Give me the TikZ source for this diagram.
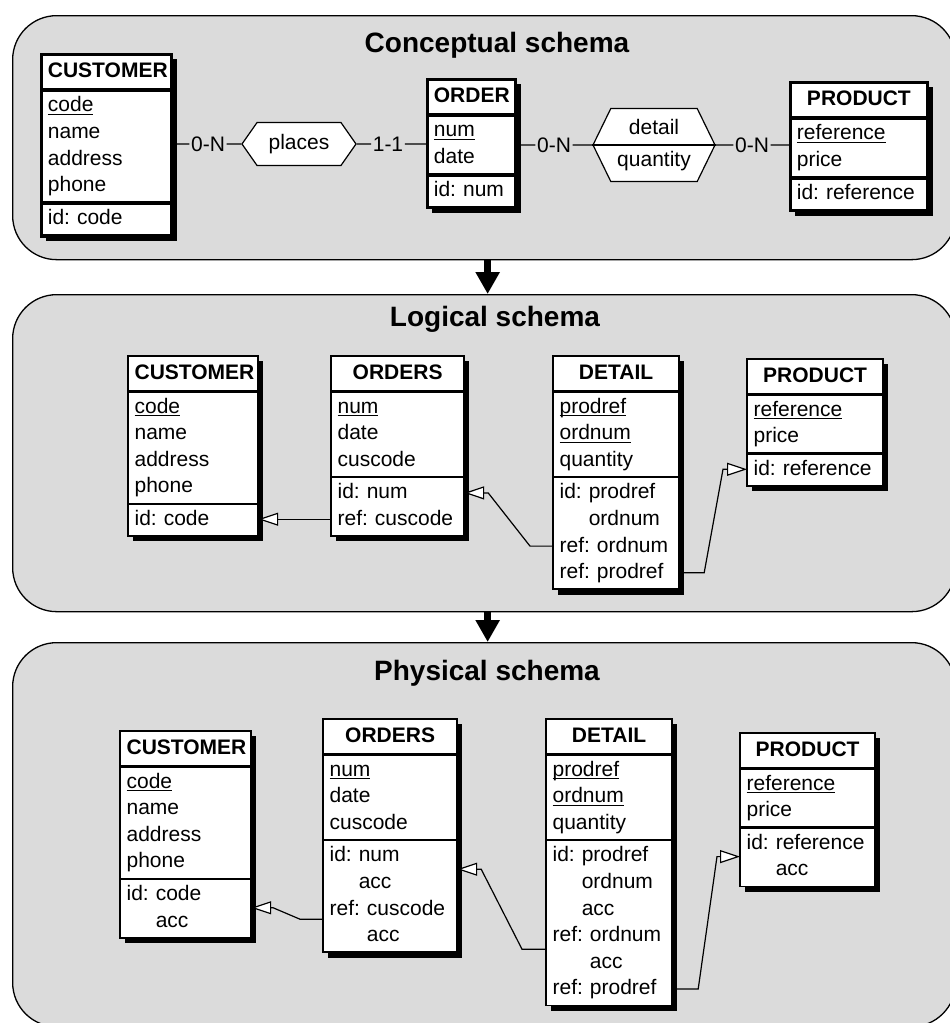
\documentclass[tikz,border=0pt]{standalone}
\usepackage{fontspec}
\setmainfont{Liberation Sans}
\usetikzlibrary{arrows.meta,shapes.symbols,positioning}

\pgfdeclarelayer{back}
\pgfdeclarelayer{shade}
\pgfsetlayers{back,shade,main}

\definecolor{panelgray}{gray}{0.86}
\newcommand\entfont{\fontsize{21}{26.6}\selectfont\frenchspacing}
\newlength\keywd
\newcommand\key[1]{\leavevmode\settowidth\keywd{#1}\rlap{\rule[-3.2pt]{\keywd}{1.1pt}}#1}

\tikzset{
	panel/.style={draw, line width=1.3, fill=panelgray, rounded corners=44, anchor=north west, inner sep=0},
	ttl/.style={font=\fontsize{28}{30}\selectfont\bfseries},
	enthead/.style={draw, line width=1.2, fill=white, anchor=north west, align=center, inner xsep=6, inner ysep=3.8, font=\entfont\bfseries, execute at begin node=\strut},
	entbody/.style={enthead, align=left, inner ysep=2.4, font=\entfont, execute at end node=\strut},
	entframe/.style={draw, line width=1.3},
	card/.style={font=\entfont, inner sep=1.5},
	rel/.style={draw, line width=1.2, fill=white, signal, signal to=west and east, inner sep=0, font=\entfont, align=center},
	conn/.style={draw, line width=1.2},
	refarrow/.style={conn, -{Triangle[fill=white, length=20pt, width=13pt]}},
	bigarrow/.style={line width=7, -{Triangle[width=23pt, length=22pt]}}
}

% table: name, position, text width, title, attributes, constraints
\newcommand\enttable[6]{%
	\node[enthead, text width=#3] (#1) at (#2) {#4};
	\node[entbody, text width=#3] (#1a) at (#1.south west) {#5};
	\node[entbody, text width=#3] (#1k) at (#1a.south west) {#6};
	\draw[entframe] (#1.north west) rectangle (#1k.south east);
	\begin{pgfonlayer}{shade}
		\fill ([shift={(5,5)}]#1.north west) rectangle ([shift={(5,5)}]#1k.south east);
	\end{pgfonlayer}}

\begin{document}
\begin{tikzpicture}[x=1pt, y=-1pt]
	\useasboundingbox (0,0) rectangle (950,1023);
	\begin{pgfonlayer}{back}
		\node[panel, minimum width=943, minimum height=244] (cpan) at (12,15) {};
		\node[panel, minimum width=943, minimum height=317] (lpan) at (12,294) {};
		\node[panel, minimum width=943, minimum height=384] (ppan) at (12,642) {};
	\end{pgfonlayer}
	\node[ttl] (ctit) at (497,45) {Conceptual schema};
	\node[ttl] (ltit) at (495,319) {Logical schema};
	\node[ttl] (ptit) at (487,673) {Physical schema};
	\draw[bigarrow] ([xshift=3.5pt]cpan.south) -- ([xshift=3.5pt]lpan.north);
	\draw[bigarrow] ([xshift=3.5pt]lpan.south) -- ([xshift=3.5pt]ppan.north);

	% conceptual
	\begin{scope}[entframe/.style={draw, line width=2.6}, enthead/.append style={line width=1.8}]
		\enttable{ccus}{41,54}{117}{CUSTOMER}{\key{code}\\name\\address\\phone}{id: code}
		\enttable{cord}{427,79}{75}{ORDER}{\key{num}\\date}{id: num}
		\enttable{cprod}{790,82}{124}{PRODUCT}{\key{reference}\\price}{id: reference}
	\end{scope}
	\node[card] (card1) at (208,144) {0-N};
	\node[rel, minimum width=114, minimum height=43, signal pointer angle=110] (places) at (299,144) {places};
	\node[card] (card2) at (388,144) {1-1};
	\node[card] (card3) at (554,145) {0-N};
	\node[rel, minimum width=122, minimum height=73, signal pointer angle=128] (detail) at (654,145) {detail\\[5pt]quantity};
	\node[card] (card4) at (752,145) {0-N};
	\draw[conn] (ccusa.east |- card1) -- (card1) -- (places) -- (card2) -- (corda.west |- card2);
	\draw[conn] (corda.east |- card3) -- (card3) -- (detail) -- (card4) -- (cproda.west |- card4);
	\draw[conn] (detail.west) -- (detail.east);

	% logical
	\enttable{lcus}{128,356}{117}{CUSTOMER}{\key{code}\\name\\address\\phone}{id: code}
	\enttable{lord}{331,356}{120}{ORDERS}{\key{num}\\date\\cuscode}{id: num\\ref: cuscode}
	\enttable{ldet}{553,356}{113}{DETAIL}{\key{prodref}\\\key{ordnum}\\quantity}{id: prodref\\\phantom{id: }ordnum\\ref: ordnum\\ref: prodref}
	\enttable{lprod}{747,359}{123}{PRODUCT}{\key{reference}\\price}{id: reference}
	\coordinate (lref1) at ([shift={(0,42)}]lordk.north west);
	\draw[refarrow] (lref1) -- (lref1 -| lcusk.east);
	\draw[refarrow] ([shift={(0,68.9)}]ldetk.north west) -- ++(-23,0) -- ([shift={(24,15.7)}]lordk.north east) -- ([shift={(0,15.7)}]lordk.north east);
	\draw[refarrow] ([shift={(0,95.5)}]ldetk.north east) -- ++(25,0) -- ([shift={(-24,15.7)}]lprodk.north west) -- ([shift={(0,15.7)}]lprodk.north west);

	% physical
	\enttable{pcus}{120,731}{118}{CUSTOMER}{\key{code}\\name\\address\\phone}{id: code\\\phantom{id: }acc}
	\enttable{pord}{323,719}{121}{ORDERS}{\key{num}\\date\\cuscode}{id: num\\\phantom{id: }acc\\ref: cuscode\\\phantom{ref: }acc}
	\enttable{pdet}{546,719}{113}{DETAIL}{\key{prodref}\\\key{ordnum}\\quantity}{id: prodref\\\phantom{id: }ordnum\\\phantom{id: }acc\\ref: ordnum\\\phantom{ref: }acc\\ref: prodref}
	\enttable{pprod}{740,733}{122}{PRODUCT}{\key{reference}\\price}{id: reference\\\phantom{id: }acc}
	\draw[refarrow] ([shift={(0,79)}]pordk.north west) -- ++(-23,0) -- ([shift={(22,29)}]pcusk.north east) -- ([shift={(0,29)}]pcusk.north east);
	\draw[refarrow] ([shift={(0,109)}]pdetk.north west) -- ++(-24,0) -- ([shift={(24,29)}]pordk.north east) -- ([shift={(0,29)}]pordk.north east);
	\draw[refarrow] ([shift={(0,148.7)}]pdetk.north east) -- ++(26,0) -- ([shift={(-23,29)}]pprodk.north west) -- ([shift={(0,29)}]pprodk.north west);
\end{tikzpicture}
\end{document}
